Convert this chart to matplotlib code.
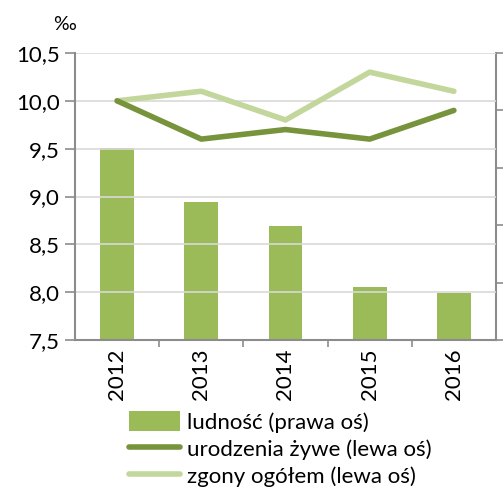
import matplotlib
matplotlib.use("Agg")
import matplotlib.pyplot as plt
from matplotlib.lines import Line2D
from matplotlib.patches import Patch

years = ["2012", "2013", "2014", "2015", "2016"]
ludnosc = [3.35, 2.40, 1.98, 0.92, 0.82]          # right axis (labels cut off)
urodzenia = [10.0, 9.6, 9.7, 9.6, 9.9]            # left axis, ‰
zgony = [10.0, 10.1, 9.8, 10.3, 10.1]             # left axis, ‰
left_ticks = [7.5, 8.0, 8.5, 9.0, 9.5, 10.0, 10.5]
right_ticks = [0, 1, 2, 3, 4, 5]

c_bar = "#9BBB59"
c_ur = "#77933C"
c_zg = "#C3D69B"
c_axis = "#8C8C8C"
c_grid = "#D9D9D9"

plt.rcParams['font.family'] = ['Lato', 'DejaVu Sans']
FS = 16

fig = plt.figure(figsize=(5.04, 4.90), dpi=100)
ax = fig.add_axes([75/504, 1-340/490, (496-75)/504, (340-53)/490])
ax2 = ax.twinx()

x = list(range(len(years)))
ax2.bar(x, ludnosc, width=0.4, color=c_bar, zorder=2)
ax2.set_ylim(right_ticks[0], right_ticks[-1])
ax2.set_yticks(right_ticks)
ax2.set_yticklabels([])
ax2.tick_params(axis='y', length=5, width=1.2, color=c_axis, direction='out')

ax.set_zorder(ax2.get_zorder() + 1)
ax.patch.set_visible(False)
ax.plot(x, zgony, color=c_zg, lw=4, solid_capstyle='round', zorder=3)
ax.plot(x, urodzenia, color=c_ur, lw=4, solid_capstyle='round', zorder=4)

ax.set_ylim(7.5, 10.5)
ax.set_yticks(left_ticks)
ax.set_yticklabels([f"{v:.1f}".replace(".", ",") for v in left_ticks], fontsize=FS)
ax.set_xlim(-0.5, len(years) - 0.5)
ax.set_xticks([i + 0.5 for i in range(len(years) - 1)], minor=False)
ax.set_xticklabels([])
ax.set_xticks(x, minor=True)
ax.set_xticklabels(years, minor=True, rotation=90, fontsize=FS)
ax.tick_params(axis='x', which='major', length=5, width=1.2, color=c_axis, direction='out')
ax.tick_params(axis='x', which='minor', length=0, pad=6)
ax.tick_params(axis='y', length=7, width=1.2, color=c_axis, direction='out', pad=4)

for yv in left_ticks:
    ax.axhline(yv, color=c_grid, lw=1.2, zorder=0)
ax2.grid(False)

for a in (ax, ax2):
    for s in a.spines.values():
        s.set_visible(False)
ax.spines['left'].set_visible(True)
ax.spines['left'].set_color(c_axis)
ax.spines['left'].set_linewidth(1.5)
ax.spines['bottom'].set_visible(True)
ax.spines['bottom'].set_color(c_axis)
ax.spines['bottom'].set_linewidth(1.5)
ax2.spines['right'].set_visible(True)
ax2.spines['right'].set_color(c_axis)
ax2.spines['right'].set_linewidth(1.5)

fig.text(64/504, 1-25/490, "‰", fontsize=14, ha='center', va='center')

handles = [
    Patch(facecolor=c_bar, edgecolor='none'),
    Line2D([0], [0], color=c_ur, lw=4, solid_capstyle='round'),
    Line2D([0], [0], color=c_zg, lw=4, solid_capstyle='round'),
]
labels = ["ludność (prawa oś)", "urodzenia żywe (lewa oś)", "zgony ogółem (lewa oś)"]
fig.legend(handles, labels, loc='upper left', bbox_to_anchor=(129/504, 1-411/490),
           frameon=False, fontsize=FS, handlelength=2.3, handleheight=1.0,
           handletextpad=0.3, labelspacing=0.25, borderaxespad=0, borderpad=0)

fig.savefig("out.png", dpi=100)
